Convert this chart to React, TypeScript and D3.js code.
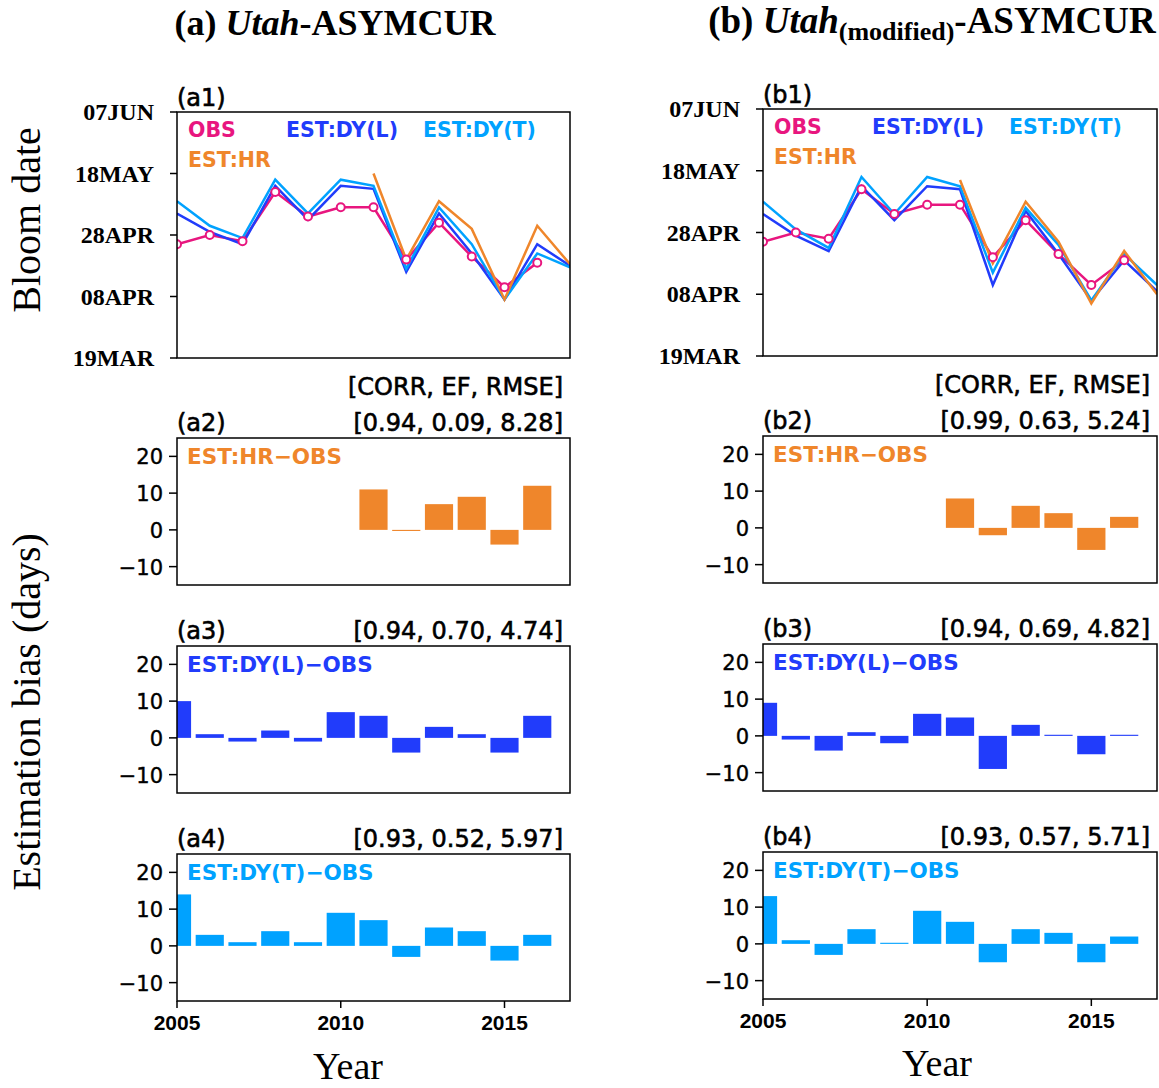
import React from 'react';
import * as d3 from 'd3';

// observed bloom dates (day of year)
const years = [2005, 2006, 2007, 2008, 2009, 2010, 2011, 2012, 2013, 2014, 2015, 2016];
const yearsEst = [2005, 2006, 2007, 2008, 2009, 2010, 2011, 2012, 2013, 2014, 2015, 2016, 2017];
const obs = [115, 118, 116, 132, 124, 127, 127, 110, 122, 111, 101, 109];

// (a) Utah
const hrA = [null, null, null, null, null, null, 138, 110, 129, 120, 97, 121, 108.5];
const dylA = [125, 119, 115, 134, 123, 134, 133, 106, 125, 112, 97, 115, 108];
const dytA = [129, 121, 117, 136, 125, 136, 134, 107, 127, 115, 97, 112, 107.5];
const biasHrA = [null, null, null, null, null, null, 11, -0.3, 7, 9, -4, 12];
const biasDylA = [10, 1, -1, 2, -1, 7, 6, -4, 3, 1, -4, 6];
const biasDytA = [14, 3, 1, 4, 1, 9, 7, -3, 5, 4, -4, 3];
const statsA = ['[0.94, 0.09, 8.28]', '[0.94, 0.70, 4.74]', '[0.93, 0.52, 5.97]'];

// (b) Utah(modified)
const hrB = [null, null, null, null, null, null, 135, 108, 128, 115, 95, 112, 98];
const dylB = [124, 117, 112, 133, 122, 133, 132, 101, 125, 111, 96, 109, 99];
const dytB = [128, 119, 113, 136, 124, 136, 133, 105, 126, 114, 96, 111, 101];
const biasHrB = [null, null, null, null, null, null, 8, -2, 6, 4, -6, 3];
const biasDylB = [9, -1, -4, 1, -2, 6, 5, -9, 3, 0.3, -5, 0.3];
const biasDytB = [13, 1, -3, 4, 0.3, 9, 6, -5, 4, 3, -5, 2];
const statsB = ['[0.99, 0.63, 5.24]', '[0.94, 0.69, 4.82]', '[0.93, 0.57, 5.71]'];

const dateTicks = [78, 98, 118, 138, 158];
const dateTickLabels = ['19MAR', '08APR', '28APR', '18MAY', '07JUN'];
const biasTicks = [-10, 0, 10, 20];
const yearTicks = [2005, 2010, 2015];

const PINK = '#e8167f';
const BLUE = '#213cfb';
const CYAN = '#00a2ff';
const ORANGE = '#ef862b';
const SANS = 'DejaVu Sans';
const SERIF = 'Liberation Serif';
const MINUS = '\u2212';

type Box = { x0: number; x1: number; y0: number; y1: number };

const LinePanel = ({ box, label, hr, dyl, dyt, id }: { box: Box; label: string; hr: (number | null)[]; dyl: number[]; dyt: number[]; id: string }) => {
  const x = d3.scaleLinear().domain([2005, 2017]).range([box.x0, box.x1]);
  const y = d3.scaleLinear().domain([78, 158]).range([box.y1, box.y0]);
  const line = d3.line<number | null>()
    .defined(d => d != null)
    .x((d, i) => x(yearsEst[i]))
    .y(d => y(d as number));
  const obsLine = d3.line<number>().x((d, i) => x(years[i])).y(d => y(d));
  return (
    <g>
      <defs>
        <clipPath id={id}><rect x={box.x0} y={box.y0} width={box.x1 - box.x0} height={box.y1 - box.y0} /></clipPath>
      </defs>
      <g clipPath={`url(#${id})`}>
        <path d={obsLine(obs) || ''} fill="none" stroke={PINK} strokeWidth={2.5} />
        <path d={line(dyl) || ''} fill="none" stroke={BLUE} strokeWidth={2.5} />
        <path d={line(dyt) || ''} fill="none" stroke={CYAN} strokeWidth={2.5} />
        <path d={line(hr) || ''} fill="none" stroke={ORANGE} strokeWidth={2.5} />
        {obs.map((d, i) => (
          <circle key={i} cx={x(years[i])} cy={y(d)} r={4} fill="white" stroke={PINK} strokeWidth={2} />
        ))}
      </g>
      <rect x={box.x0} y={box.y0} width={box.x1 - box.x0} height={box.y1 - box.y0} fill="none" stroke="black" strokeWidth={1.5} />
      {dateTicks.map((t, i) => (
        <g key={t}>
          <line x1={box.x0 - 7} x2={box.x0} y1={y(t)} y2={y(t)} stroke="black" strokeWidth={1.5} />
          <text x={box.x0 - 23} y={y(t) + 8} textAnchor="end" fontFamily={SERIF} fontWeight="bold" fontSize={24}>{dateTickLabels[i]}</text>
        </g>
      ))}
      <text x={box.x0} y={box.y0 - 6} fontFamily={SANS} fontSize={24} stroke="black" strokeWidth={0.6}>{label}</text>
      <g fontFamily={SANS} fontWeight="bold" fontSize={20.5}>
        <text x={box.x0 + 11} y={box.y0 + 25} fill={PINK}>OBS</text>
        <text x={box.x0 + 109} y={box.y0 + 25} fill={BLUE}>EST:DY(L)</text>
        <text x={box.x0 + 246} y={box.y0 + 25} fill={CYAN}>EST:DY(T)</text>
        <text x={box.x0 + 11} y={box.y0 + 55} fill={ORANGE}>EST:HR</text>
      </g>
    </g>
  );
};

const BarPanel = ({ box, label, stats, name, color, values, showX, header, id }: { box: Box; label: string; stats: string; name: string; color: string; values: (number | null)[]; showX?: boolean; header?: boolean; id: string }) => {
  const x = d3.scaleLinear().domain([2005, 2017]).range([box.x0, box.x1]);
  const y = d3.scaleLinear().domain([-15, 25]).range([box.y1, box.y0]);
  const bw = x(2005.43) - x(2005);
  return (
    <g>
      <defs>
        <clipPath id={id}><rect x={box.x0} y={box.y0} width={box.x1 - box.x0} height={box.y1 - box.y0} /></clipPath>
      </defs>
      <g clipPath={`url(#${id})`}>
        {values.map((v, i) => v == null ? null : (
          <rect key={i} x={x(years[i]) - bw} width={bw * 2}
            y={y(Math.max(0, v))} height={Math.abs(y(v) - y(0))} fill={color} />
        ))}
      </g>
      <rect x={box.x0} y={box.y0} width={box.x1 - box.x0} height={box.y1 - box.y0} fill="none" stroke="black" strokeWidth={1.5} />
      {biasTicks.map(t => (
        <g key={t}>
          <line x1={box.x0 - 8} x2={box.x0} y1={y(t)} y2={y(t)} stroke="black" strokeWidth={1.5} />
          <text x={box.x0 - 14} y={y(t) + 8} textAnchor="end" fontFamily={SANS} fontSize={21} stroke="black" strokeWidth={0.4}>{t < 0 ? `${MINUS}${-t}` : t}</text>
        </g>
      ))}
      {showX && yearTicks.map(t => (
        <g key={t}>
          <line x1={x(t)} x2={x(t)} y1={box.y1} y2={box.y1 + 7} stroke="black" strokeWidth={1.5} />
          <text x={x(t)} y={box.y1 + 29} textAnchor="middle" fontFamily="Liberation Sans" fontWeight="bold" fontSize={21}>{t}</text>
        </g>
      ))}
      <text x={box.x0} y={box.y0 - 7} fontFamily={SANS} fontSize={24} stroke="black" strokeWidth={0.6}>{label}</text>
      <text x={box.x1 - 7} y={box.y0 - 7} textAnchor="end" fontFamily={SANS} fontSize={24} stroke="black" strokeWidth={0.6}>{stats}</text>
      {header && <text x={box.x1 - 7} y={box.y0 - 43} textAnchor="end" fontFamily={SANS} fontSize={24} stroke="black" strokeWidth={0.6}>[CORR, EF, RMSE]</text>}
      <text x={box.x0 + 10} y={box.y0 + 26} fill={color} fontFamily={SANS} fontWeight="bold" fontSize={21.5}>{name}</text>
    </g>
  );
};

export default function App() {
  const A = { x0: 177, x1: 570 };
  const B = { x0: 763, x1: 1157 };
  return (
    <svg width={1159} height={1088} style={{ display: 'block', position: 'absolute', left: 0, top: 0, background: 'white' }}>
      <rect width={1159} height={1088} fill="white" />
      <text x={335} y={35} textAnchor="middle" fontFamily={SERIF} fontWeight="bold" fontSize={36}>
        (a) <tspan fontStyle="italic">Utah</tspan>-ASYMCUR
      </text>
      <text x={932} y={33} textAnchor="middle" fontFamily={SERIF} fontWeight="bold" fontSize={37}>
        (b) <tspan fontStyle="italic">Utah</tspan><tspan fontSize={26} dy={7}>(modified)</tspan><tspan dy={-7}>-ASYMCUR</tspan>
      </text>
      <text transform="translate(40,220) rotate(-90)" textAnchor="middle" fontFamily={SERIF} fontSize={40}>Bloom date</text>
      <text transform="translate(40,712) rotate(-90)" textAnchor="middle" fontFamily={SERIF} fontSize={40}>Estimation bias (days)</text>
      <text x={348} y={1079} textAnchor="middle" fontFamily={SERIF} fontSize={38}>Year</text>
      <text x={937} y={1076} textAnchor="middle" fontFamily={SERIF} fontSize={38}>Year</text>

      <LinePanel id="ca1" box={{ ...A, y0: 112, y1: 358 }} label="(a1)" hr={hrA} dyl={dylA} dyt={dytA} />
      <BarPanel id="ca2" box={{ ...A, y0: 438, y1: 585 }} label="(a2)" stats={statsA[0]} header name={`EST:HR${MINUS}OBS`} color={ORANGE} values={biasHrA} />
      <BarPanel id="ca3" box={{ ...A, y0: 646, y1: 793 }} label="(a3)" stats={statsA[1]} name={`EST:DY(L)${MINUS}OBS`} color={BLUE} values={biasDylA} />
      <BarPanel id="ca4" box={{ ...A, y0: 854, y1: 1001 }} label="(a4)" stats={statsA[2]} name={`EST:DY(T)${MINUS}OBS`} color={CYAN} values={biasDytA} showX />

      <LinePanel id="cb1" box={{ ...B, y0: 109, y1: 356 }} label="(b1)" hr={hrB} dyl={dylB} dyt={dytB} />
      <BarPanel id="cb2" box={{ ...B, y0: 436, y1: 583 }} label="(b2)" stats={statsB[0]} header name={`EST:HR${MINUS}OBS`} color={ORANGE} values={biasHrB} />
      <BarPanel id="cb3" box={{ ...B, y0: 644, y1: 791 }} label="(b3)" stats={statsB[1]} name={`EST:DY(L)${MINUS}OBS`} color={BLUE} values={biasDylB} />
      <BarPanel id="cb4" box={{ ...B, y0: 852, y1: 999 }} label="(b4)" stats={statsB[2]} name={`EST:DY(T)${MINUS}OBS`} color={CYAN} values={biasDytB} showX />
    </svg>
  );
}
